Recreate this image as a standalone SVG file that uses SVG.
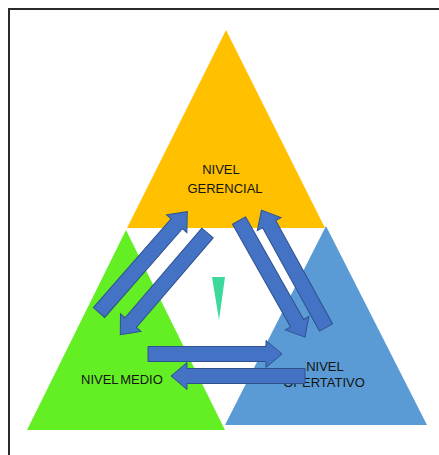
<svg xmlns="http://www.w3.org/2000/svg" width="439" height="455" viewBox="0 0 439 455">
  <defs>
    <style>
      .frame { stroke: #2b2b2b; stroke-width: 2; fill: none; }
      .label { font-family: "Liberation Sans", Arial, sans-serif; font-size: 13px; fill: #141414; }
      .arrow { fill: #4472C4; stroke: #2F528F; stroke-width: 1; }
    </style>
    <!-- block arrow along +x: tail at origin, tip at x=134 -->
    <path id="blockArrow" d="M0,-7.5 H118 V-13.5 L134,0 L118,13.5 V7.5 H0 Z"/>
  </defs>

  <rect width="439" height="455" fill="#ffffff"/>

  <!-- page frame (top and left edges) -->
  <path class="frame" d="M9,455 V9 H439"/>

  <g id="nivel-gerencial">
    <polygon points="226,30 127,228 325,228" fill="#FFC000"/>
    <text class="label" x="221" y="174" text-anchor="middle">NIVEL</text>
    <text class="label" x="225" y="193" text-anchor="middle">GERENCIAL</text>
  </g>

  <g id="nivel-medio">
    <polygon points="126,230 27,430 225,430" fill="#64EF24"/>
    <text class="label" x="81" y="384" word-spacing="-1.5">NIVEL MEDIO</text>
  </g>

  <g id="nivel-operativo">
    <polygon points="326,226 225,425 427,425" fill="#5B9BD5"/>
    <text class="label" x="325" y="371" text-anchor="middle">NIVEL</text>
    <text class="label" x="324" y="387" text-anchor="middle">OPERTATIVO</text>
  </g>

  <g id="centro">
    <polygon points="212,277 225,277 219,320" fill="#3CD99A"/>
  </g>

  <g id="connectors">
    <!-- medio <-> gerencial -->
    <use href="#blockArrow" class="arrow" transform="translate(99,312.5) rotate(-48.8)"/>
    <use href="#blockArrow" class="arrow" transform="translate(207.5,233) rotate(130.6)"/>
    <!-- gerencial <-> operativo -->
    <use href="#blockArrow" class="arrow" transform="translate(239,220.5) rotate(60.5)"/>
    <use href="#blockArrow" class="arrow" transform="translate(326,327.5) rotate(-118.8)"/>
    <!-- medio <-> operativo -->
    <use href="#blockArrow" class="arrow" transform="translate(148,354)"/>
    <use href="#blockArrow" class="arrow" transform="translate(305,376) rotate(180)"/>
  </g>
</svg>
